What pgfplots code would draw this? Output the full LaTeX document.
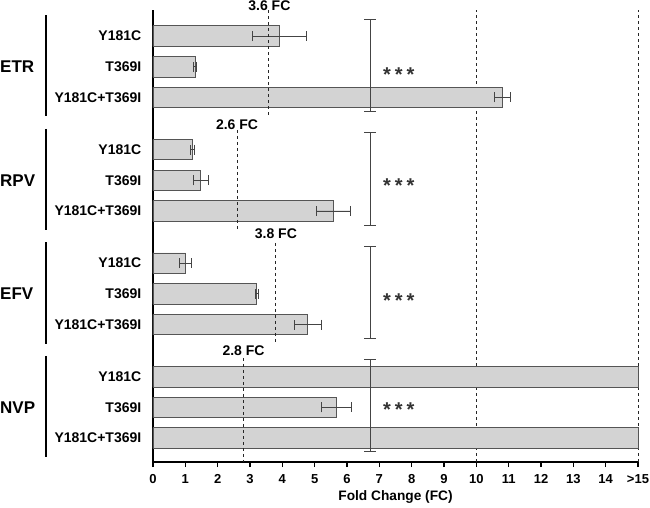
\documentclass[border=0pt]{standalone}
\usepackage{fontspec}
\setmainfont{Liberation Sans}
\usepackage{pgfplots}
\pgfplotsset{compat=1.18}
\definecolor{barfill}{HTML}{D3D3D3}
\definecolor{bardraw}{HTML}{555555}
\definecolor{errc}{HTML}{444444}
\newcommand{\stars}{*\hspace{4pt}*\hspace{4pt}*}
\tikzset{
  starnode/.style={font=\bfseries\fontsize{20}{20}\selectfont, text=black!80, inner sep=0pt, yshift=-4pt},
  fcnode/.style={font=\bfseries\fontsize{14}{14}\selectfont, inner sep=0pt},
  grouplab/.style={anchor=west, inner sep=0pt, font=\bfseries\fontsize{17}{17}\selectfont, xshift=-153pt},
  groupline/.style={line width=2pt, black},
}
\begin{document}
\begin{tikzpicture}
\path[use as bounding box] (-153pt,-45.3pt) rectangle (497pt,461.7pt);
\begin{axis}[
  at={(0,0)}, anchor=south west,
  scale only axis, width=485pt, height=451.7pt,
  xmin=0, xmax=15, ymin=-13.87, ymax=0.85,
  axis x line*=bottom, axis y line*=left,
  axis line style={line width=1.8pt, black},
  clip=false,
  xtick={0,1,2,3,4,5,6,7,8,9,10,11,12,13,14,15},
  xticklabels={0,1,2,3,4,5,6,7,8,9,10,11,12,13,14,>15},
  x tick label style={font=\bfseries\fontsize{13}{13}\selectfont, yshift=-4pt},
  xtick style={line width=1.4pt, black},
  major tick length=5.5pt, tick align=outside,
  ytick={0,-1,-2,-3.7,-4.7,-5.7,-7.4,-8.4,-9.4,-11.1,-12.1,-13.1},
  yticklabels={Y181C,T369I,Y181C+T369I,Y181C,T369I,Y181C+T369I,Y181C,T369I,Y181C+T369I,Y181C,T369I,Y181C+T369I},
  y tick label style={font=\bfseries\fontsize{14}{14}\selectfont, inner sep=0pt, xshift=-6pt},
  ytick style={draw=none},
  xlabel={Fold Change (FC)},
  xlabel style={font=\bfseries\fontsize{13.7}{14}\selectfont},
]
% threshold dashed lines (full height)
\addplot[dashed, line width=0.8pt, black!85, forget plot] coordinates {(10,-13.87) (10,0.85)};
\addplot[dashed, line width=0.8pt, black!85, forget plot] coordinates {(15,-13.87) (15,0.85)};

% bars with error bars
\addplot[xbar, bar width=20.5pt, bar shift=0pt, fill=barfill, draw=bardraw, line width=0.8pt,
  error bars/.cd, x dir=both, x explicit,
  error bar style={color=errc, line width=0.9pt},
  error mark options={color=errc, line width=0.9pt, mark size=5pt, rotate=90}]
coordinates {
 (3.92,0) +- (0.83,0)
 (1.30,-1) +- (0.05,0)
 (10.80,-2) +- (0.25,0)
 (1.22,-3.7) +- (0.05,0)
 (1.48,-4.7) +- (0.23,0)
 (5.59,-5.7) +- (0.52,0)
 (1.01,-7.4) +- (0.19,0)
 (3.21,-8.4) +- (0.05,0)
 (4.79,-9.4) +- (0.42,0)
 (5.68,-12.1) +- (0.46,0)
};
% bars above the range (>15), no error bars
\addplot[xbar, bar width=20.5pt, bar shift=0pt, fill=barfill, draw=bardraw, line width=0.8pt]
coordinates {
 (15,-11.1)
 (15,-13.1)
};

% drug-specific cut-offs
\addplot[dashed, line width=0.8pt, black!85] coordinates {(3.58,0.85) (3.58,-2.66)};
\addplot[dashed, line width=0.8pt, black!85] coordinates {(2.62,-3.06) (2.62,-6.37)};
\addplot[dashed, line width=0.8pt, black!85] coordinates {(3.79,-6.74) (3.79,-10.03)};
\addplot[dashed, line width=0.8pt, black!85] coordinates {(2.81,-10.49) (2.81,-13.87)};
\node[fcnode] at (axis cs:3.6,0.98) {3.6 FC};
\node[fcnode] at (axis cs:2.6,-2.90) {2.6 FC};
\node[fcnode] at (axis cs:3.8,-6.45) {3.8 FC};
\node[fcnode] at (axis cs:2.8,-10.26) {2.8 FC};

% significance brackets
\addplot[errc, line width=1pt] coordinates {(6.72,0.54) (6.72,-2.47)};
\addplot[errc, line width=1pt] coordinates {(6.53,0.54) (6.91,0.54)};
\addplot[errc, line width=1pt] coordinates {(6.53,-2.47) (6.91,-2.47)};
\addplot[errc, line width=1pt] coordinates {(6.72,-3.14) (6.72,-6.16)};
\addplot[errc, line width=1pt] coordinates {(6.53,-3.14) (6.91,-3.14)};
\addplot[errc, line width=1pt] coordinates {(6.53,-6.16) (6.91,-6.16)};
\addplot[errc, line width=1pt] coordinates {(6.72,-6.86) (6.72,-9.87)};
\addplot[errc, line width=1pt] coordinates {(6.53,-6.86) (6.91,-6.86)};
\addplot[errc, line width=1pt] coordinates {(6.53,-9.87) (6.91,-9.87)};
\addplot[errc, line width=1pt] coordinates {(6.72,-10.54) (6.72,-13.55)};
\addplot[errc, line width=1pt] coordinates {(6.53,-10.54) (6.91,-10.54)};
\addplot[errc, line width=1pt] coordinates {(6.53,-13.55) (6.91,-13.55)};
\node[starnode] at (axis cs:7.6,-1.11) {\stars};
\node[starnode] at (axis cs:7.6,-4.75) {\stars};
\node[starnode] at (axis cs:7.6,-8.49) {\stars};
\node[starnode] at (axis cs:7.6,-12.05) {\stars};

% group labels and lines
\draw[groupline] ([xshift=-107.3pt]axis cs:0,0.68) -- ([xshift=-107.3pt]axis cs:0,-2.62);
\draw[groupline] ([xshift=-107.3pt]axis cs:0,-3.02) -- ([xshift=-107.3pt]axis cs:0,-6.32);
\draw[groupline] ([xshift=-107.3pt]axis cs:0,-6.72) -- ([xshift=-107.3pt]axis cs:0,-10.02);
\draw[groupline] ([xshift=-107.3pt]axis cs:0,-10.42) -- ([xshift=-107.3pt]axis cs:0,-13.72);
\node[grouplab] at (axis cs:0,-1) {ETR};
\node[grouplab] at (axis cs:0,-4.7) {RPV};
\node[grouplab] at (axis cs:0,-8.4) {EFV};
\node[grouplab] at (axis cs:0,-12.1) {NVP};
\end{axis}
\end{tikzpicture}
\end{document}
